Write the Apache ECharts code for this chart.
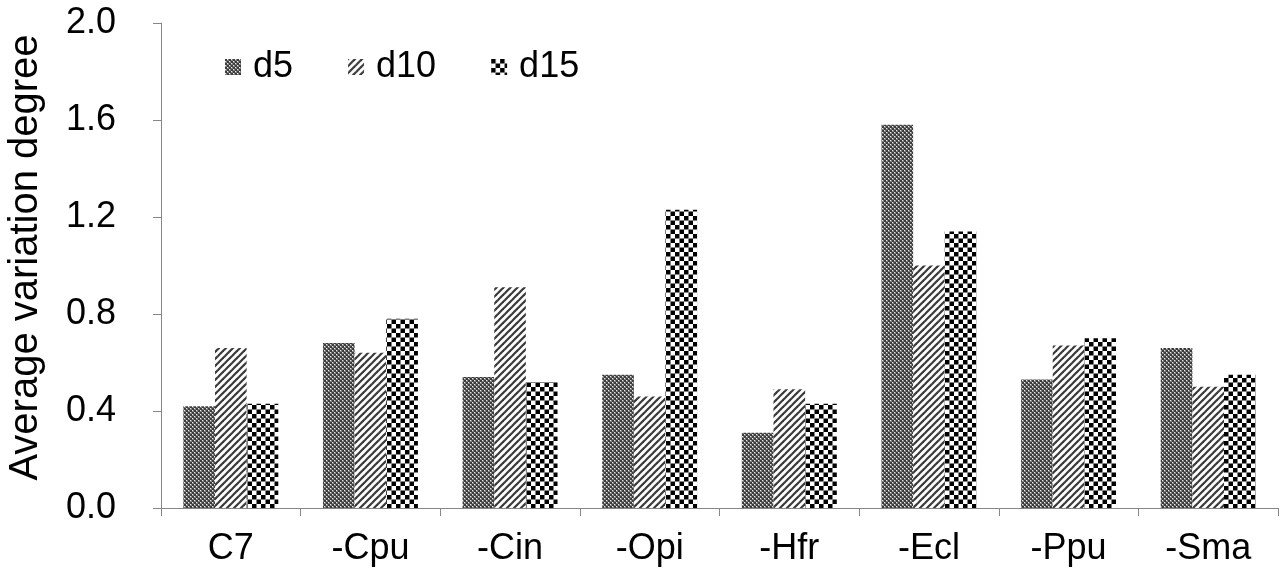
<!DOCTYPE html>
<html><head><meta charset="utf-8">
<script src="https://cdn.jsdelivr.net/npm/echarts@6/dist/echarts.min.js"></script>
<style>html,body{margin:0;padding:0;background:#fff}#c{width:1282px;height:577px}</style>
</head><body><div id="c"></div>
<script>
const categories = ['C7', '-Cpu', '-Cin', '-Opi', '-Hfr', '-Ecl', '-Ppu', '-Sma'];
const seriesNames = ['d5', 'd10', 'd15'];
const d5 = [0.42, 0.68, 0.54, 0.55, 0.31, 1.58, 0.53, 0.66];
const d10 = [0.66, 0.64, 0.91, 0.46, 0.49, 1.00, 0.67, 0.50];
const d15 = [0.43, 0.78, 0.52, 1.23, 0.43, 1.14, 0.70, 0.55];
const yTicks = ['0.0', '0.4', '0.8', '1.2', '1.6', '2.0'];

function makePattern(kind) {
  const c = document.createElement('canvas');
  const ctx = c.getContext('2d');
  if (kind === 0) {
    c.width = 4; c.height = 4;
    ctx.fillStyle = '#808080'; ctx.fillRect(0, 0, 4, 4);
    ctx.fillStyle = '#3c3c3c'; ctx.fillRect(0, 0, 2, 2); ctx.fillRect(2, 2, 2, 2);
    ctx.fillStyle = '#ececec'; ctx.fillRect(2, 0, 1, 1); ctx.fillRect(0, 2, 1, 1);
  } else if (kind === 1) {
    c.width = 7; c.height = 7;
    ctx.fillStyle = '#fff'; ctx.fillRect(0, 0, 7, 7);
    ctx.strokeStyle = '#3a3a3a'; ctx.lineWidth = 2.2;
    for (let k = -2; k <= 2; k++) {
      ctx.beginPath(); ctx.moveTo(k * 7 - 1, 8); ctx.lineTo(k * 7 + 8, -1); ctx.stroke();
    }
  } else {
    c.width = 9; c.height = 9;
    ctx.fillStyle = '#fff'; ctx.fillRect(0, 0, 9, 9);
    ctx.fillStyle = '#000'; ctx.fillRect(0, 0, 4.5, 4.5); ctx.fillRect(4.5, 4.5, 4.5, 4.5);
  }
  return { image: c, repeat: 'repeat' };
}

const data = [d5, d10, d15];
const chart = echarts.init(document.getElementById('c'), null, { renderer: 'canvas' });
const font = 'Liberation Sans, Arial, sans-serif';
chart.setOption({
  animation: false,
  grid: { left: 161, right: 4, top: 23, bottom: 69, containLabel: false, outerBoundsMode: 'none' },
  legend: {
    data: seriesNames, left: 225, top: 49, padding: 0, itemWidth: 16, itemHeight: 16, itemGap: 55,
    icon: 'rect',
    textStyle: { fontFamily: font, fontSize: 36, color: '#000', padding: [0, 0, 0, 7] }
  },
  xAxis: {
    type: 'category', data: categories,
    axisLine: { lineStyle: { color: '#868686', width: 1 } },
    axisTick: { show: true, alignWithLabel: false, length: 8, lineStyle: { color: '#868686' } },
    axisLabel: { fontFamily: font, fontSize: 36, color: '#000', margin: 23 }
  },
  yAxis: {
    type: 'value', min: 0, max: 2.0, interval: 0.4,
    name: 'Average variation degree', nameLocation: 'middle', nameGap: 115,
    nameTextStyle: { fontFamily: font, fontSize: 40, color: '#000', padding: [0, 0, 0, 16] },
    axisLine: { show: true, lineStyle: { color: '#868686', width: 1 } },
    axisTick: { show: true, length: 8, lineStyle: { color: '#868686' } },
    splitLine: { show: false },
    axisLabel: { fontFamily: font, fontSize: 36, color: '#000', margin: 45,
      formatter: v => yTicks[Math.round(v / 0.4)] }
  },
  series: seriesNames.map((n, i) => ({
    name: n, type: 'bar', data: data[i], barGap: '0%', barCategoryGap: '32%',
    itemStyle: { color: makePattern(i) }
  }))
});
</script></body></html>
